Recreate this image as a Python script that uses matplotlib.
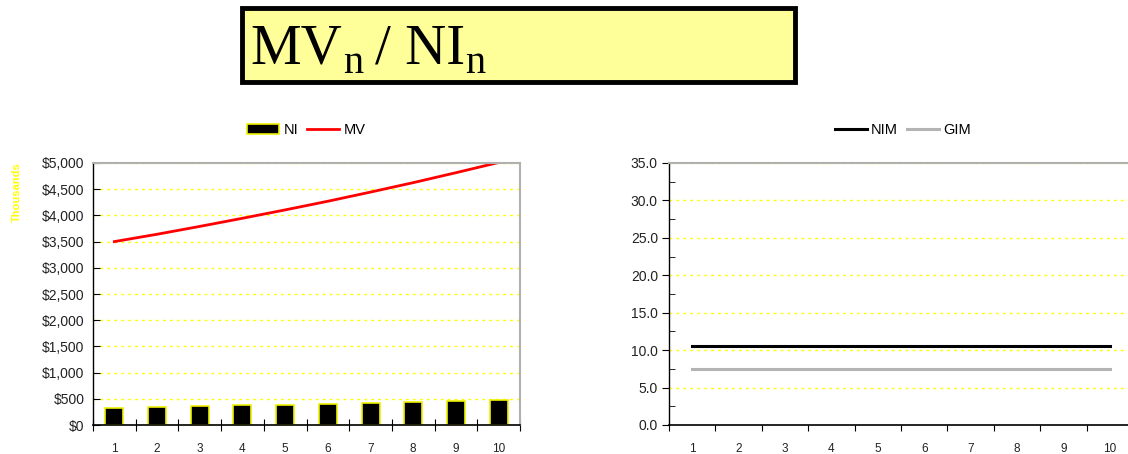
import matplotlib
matplotlib.use("Agg")
import matplotlib.pyplot as plt
from matplotlib.patches import Rectangle
from matplotlib.ticker import MultipleLocator, FuncFormatter

# data
years = [1, 2, 3, 4, 5, 6, 7, 8, 9, 10]
ni = [333, 347, 361, 375, 391, 407, 423, 440, 458, 476]
mv = [3500, 3640, 3790, 3945, 4105, 4270, 4445, 4625, 4815, 5010]
nim = [10.5, 10.5, 10.5, 10.5, 10.5, 10.5, 10.5, 10.5, 10.5, 10.5]
gim = [7.5, 7.5, 7.5, 7.5, 7.5, 7.5, 7.5, 7.5, 7.5, 7.5]

yellowGrid = "#FFFF00"
borderGrey = "#B0B0B0"
textCol = "#222222"

plt.rcParams["font.family"] = ["Liberation Sans", "DejaVu Sans"]

fig = plt.figure(figsize=(11.28, 4.54), dpi=100)
fig.patch.set_facecolor("white")

# title box
fig.patches.append(Rectangle((242 / 1128, 1 - 82 / 454), 553 / 1128, 74 / 454,
                             transform=fig.transFigure, facecolor="#FFFF99",
                             edgecolor="black", linewidth=3.5))
fig.text(250 / 1128, 1 - 63 / 454, "MV", family="Liberation Serif", fontsize=41,
         va="baseline", ha="left")
fig.text(343 / 1128, 1 - 73 / 454, "n", family="Liberation Serif", fontsize=29,
         va="baseline", ha="left")
fig.text(375 / 1128, 1 - 63 / 454, "/ NI", family="Liberation Serif", fontsize=41,
         va="baseline", ha="left")
fig.text(465 / 1128, 1 - 73 / 454, "n", family="Liberation Serif", fontsize=29,
         va="baseline", ha="left")


def style_axes(ax):
    ax.set_facecolor("white")
    ax.spines["left"].set_color("black")
    ax.spines["bottom"].set_color("black")
    ax.spines["left"].set_linewidth(1.0)
    ax.spines["bottom"].set_linewidth(1.2)
    ax.spines["top"].set_color(borderGrey)
    ax.spines["right"].set_color(borderGrey)
    ax.spines["top"].set_linewidth(1.5)
    ax.spines["right"].set_linewidth(1.5)
    ax.grid(axis="y", color=yellowGrid, linestyle=(0, (2, 3)), linewidth=1.0)
    ax.set_axisbelow(True)
    ax.set_xlim(0.5, 10.5)
    ax.set_xticks([y + 0.5 for y in years[:-1]] + [0.5, 10.5])
    ax.set_xticklabels([])
    ax.set_xticks(years, minor=True)
    ax.set_xticklabels([str(y) for y in years], minor=True, fontsize=8.5, color=textCol)
    ax.tick_params(axis="x", which="minor", length=0, pad=13)


# left chart: NI bars and MV line
ax1 = fig.add_axes([93 / 1128, 29 / 454, 427 / 1128, 262 / 454])
style_axes(ax1)
bars = ax1.bar(years, ni, width=0.42, color="black", edgecolor="#F0F000", linewidth=1.2, label="NI")
line, = ax1.plot(years, mv, color="#FF0000", linewidth=2.0, label="MV")
ax1.set_ylim(0, 5000)
ax1.yaxis.set_major_locator(MultipleLocator(500))
ax1.yaxis.set_major_formatter(FuncFormatter(lambda v, p: "${:,.0f}".format(v)))
ax1.tick_params(axis="y", which="major", direction="in", length=5, labelsize=10,
                labelcolor=textCol, pad=6)
ax1.tick_params(axis="x", which="major", direction="inout", length=9)
fig.text(17 / 1128, 1 - 192 / 454, "Thousands", rotation=90, color=yellowGrid,
         fontsize=8, fontweight="bold", ha="center", va="center")
ax1.legend([bars, line], ["NI", "MV"], loc="lower center", bbox_to_anchor=(0.5, 1.05),
           ncol=2, frameon=False, fontsize=10.5, handlelength=2.2, handletextpad=0.3,
           columnspacing=0.6)

# right chart: NIM and GIM
ax2 = fig.add_axes([669 / 1128, 29 / 454, 464 / 1128, 262 / 454])
style_axes(ax2)
ax2.plot(years, nim, color="black", linewidth=2.2, label="NIM")
ax2.plot(years, gim, color="#B4B4B4", linewidth=2.2, label="GIM")
ax2.set_ylim(0, 35)
ax2.yaxis.set_major_locator(MultipleLocator(5))
ax2.yaxis.set_minor_locator(MultipleLocator(2.5))
ax2.yaxis.set_major_formatter(FuncFormatter(lambda v, p: "{:.1f}".format(v)))
ax2.tick_params(axis="y", which="major", direction="out", length=5, labelsize=10,
                labelcolor=textCol, pad=3)
ax2.tick_params(axis="y", which="minor", direction="in", length=4)
ax2.tick_params(axis="x", which="major", direction="out", length=4)
ax2.spines["right"].set_visible(False)
ax2.legend(loc="lower center", bbox_to_anchor=(0.5 + 2 / 464, 1.05), ncol=2, frameon=False,
           fontsize=10.5, handlelength=2.2, handletextpad=0.3, columnspacing=0.6)

fig.savefig("out.png", dpi=100, facecolor="white")
